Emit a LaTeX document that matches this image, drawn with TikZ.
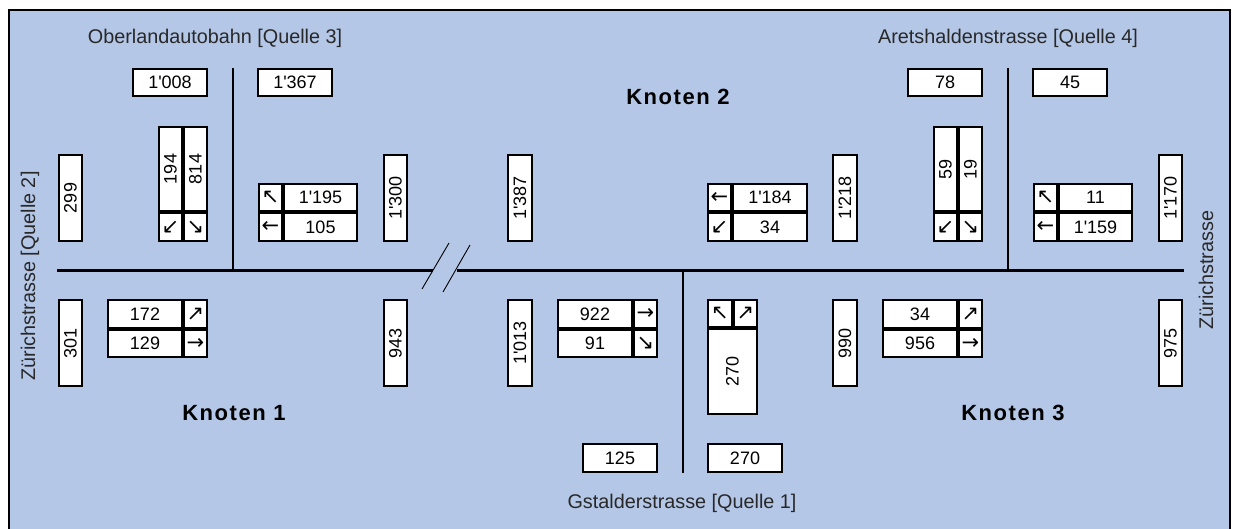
\documentclass[tikz,border=0pt]{standalone}
\usepackage{fontspec}
\usepackage{graphicx}
\newfontfamily\nf{Liberation Sans}
\newfontfamily\kf{Liberation Sans}[LetterSpace=7]
\newfontfamily\af{DejaVu Sans}
\definecolor{bg}{RGB}{180,199,231}
\definecolor{lblc}{RGB}{40,40,40}
\newcommand\rotnum[1]{\rotatebox{90}{#1}}
\newcommand\cbox[7][]{%
  \pgfmathsetmacro\cbw{#5-#3-1.8}\pgfmathsetmacro\cbh{#6-#4-1.8}%
  \node[cell,minimum width=\cbw pt,minimum height=\cbh pt,#1] (#2) at ({(#3+#5)/2},{(#4+#6)/2}) {#7};}
\begin{document}
\begin{tikzpicture}[x=1pt,y=-1pt,
  cell/.style={draw=black,line width=1.8pt,fill=white,inner sep=0pt,text=black,font=\nf\fontsize{18}{21}\selectfont},
  arr/.style={font=\af\fontsize{21}{24}\selectfont},
  road/.style={line width=2.2pt,draw=black},
  brk/.style={line width=0.9pt,draw=black},
  lbl/.style={font=\nf\fontsize{19.8}{23}\selectfont,text=lblc,inner sep=0pt},
  knot/.style={font=\kf\bfseries\fontsize{22}{25}\selectfont,text=black,inner sep=0pt}]
\useasboundingbox (0,0) rectangle (1237,529);
\clip (0,0) rectangle (1237,529);
\fill[white] (0,0) rectangle (1237,529);
\draw[line width=2pt,fill=bg] (9,10.5) rectangle (1230,560);

% roads
\coordinate (mL) at (57,270.5);
\coordinate (bL) at (433,270.5);
\coordinate (bR) at (457,270.5);
\coordinate (mR) at (1184,270.5);
\draw[road] (mL) -- (bL);
\draw[road] (bR) -- (mR);
\coordinate (s1a) at (422,289); \coordinate (s1b) at (449,243);
\coordinate (s2a) at (443,292); \coordinate (s2b) at (470,245);
\draw[brk] (s1a) -- (s1b);
\draw[brk] (s2a) -- (s2b);
\coordinate (o1) at (233,68); \coordinate (o2) at (233,270.5);
\draw[road] (o1) -- (o2);
\coordinate (r1) at (1008,68); \coordinate (r2) at (1008,270.5);
\draw[road] (r1) -- (r2);
\coordinate (g1) at (683,270.5); \coordinate (g2) at (683,473);
\draw[road] (g1) -- (g2);

% street labels
\node[lbl] (oberland) at (215,38) {Oberlandautobahn [Quelle 3]};
\node[lbl] (aret) at (1008,38) {Aretshaldenstrasse [Quelle 4]};
\node[lbl] (gstal) at (682,503) {Gstalderstrasse [Quelle 1]};
\node[lbl,rotate=90] (zu2) at (30,276) {Zürichstrasse [Quelle 2]};
\node[lbl,rotate=90] (zu) at (1206,270) {Zürichstrasse};

% Knoten
\node[knot] (k1) at (234,413) {Knoten 1};
\node[knot] (k2) at (678,97) {Knoten 2};
\node[knot] (k3) at (1013,413) {Knoten 3};

% top-left
\cbox{n1008}{132}{68}{208}{97}{1'008}
\cbox{n1367}{257}{68}{333}{97}{1'367}
\cbox{n299}{58}{154}{83}{242}{\rotnum{299}}
\cbox{n194}{158}{126}{183}{212}{\rotnum{194}}
\cbox{n814}{183}{126}{208}{212}{\rotnum{814}}
\cbox[arr]{a194}{158}{212}{183}{242}{↙}
\cbox[arr]{a814}{183}{212}{208}{242}{↘}
\cbox[arr]{a1195}{258}{183}{283}{212}{↖}
\cbox{n1195}{283}{183}{358}{212}{1'195}
\cbox[arr]{a105}{258}{212}{283}{242}{←}
\cbox{n105}{283}{212}{358}{242}{105}
\cbox{n1300}{383}{154}{408}{242}{\rotnum{1'300}}

% bottom-left
\cbox{n301}{58}{299}{83}{387}{\rotnum{301}}
\cbox{n172}{107}{299}{183}{329}{172}
\cbox[arr]{a172}{183}{299}{208}{329}{↗}
\cbox{n129}{107}{329}{183}{358}{129}
\cbox[arr]{a129}{183}{329}{208}{358}{→}
\cbox{n943}{383}{299}{408}{387}{\rotnum{943}}

% middle
\cbox{n1387}{507}{154}{533}{242}{\rotnum{1'387}}
\cbox[arr]{a1184}{707}{183}{732}{212}{←}
\cbox{n1184}{732}{183}{808}{212}{1'184}
\cbox[arr]{a34}{707}{212}{732}{242}{↙}
\cbox{n34}{732}{212}{808}{242}{34}
\cbox{n1013}{507}{299}{533}{387}{\rotnum{1'013}}
\cbox{n922}{557}{299}{633}{329}{922}
\cbox[arr]{a922}{633}{299}{658}{329}{→}
\cbox{n91}{557}{329}{633}{358}{91}
\cbox[arr]{a91}{633}{329}{658}{358}{↘}
\cbox[arr]{a270l}{707}{299}{733}{328}{↖}
\cbox[arr]{a270r}{733}{299}{758}{328}{↗}
\cbox{n270v}{707}{328}{758}{415}{\rotnum{270}}
\cbox{n125}{582}{443}{658}{473}{125}
\cbox{n270}{707}{443}{783}{473}{270}

% right
\cbox{n78}{907}{68}{983}{97}{78}
\cbox{n45}{1032}{68}{1108}{97}{45}
\cbox{n1218}{832}{154}{858}{242}{\rotnum{1'218}}
\cbox{n59}{933}{126}{958}{212}{\rotnum{59}}
\cbox{n19}{958}{126}{983}{212}{\rotnum{19}}
\cbox[arr]{a59}{933}{212}{958}{242}{↙}
\cbox[arr]{a19}{958}{212}{983}{242}{↘}
\cbox[arr]{a11}{1033}{183}{1058}{212}{↖}
\cbox{n11}{1058}{183}{1133}{212}{11}
\cbox[arr]{a1159}{1033}{212}{1058}{242}{←}
\cbox{n1159}{1058}{212}{1133}{242}{1'159}
\cbox{n1170}{1158}{154}{1183}{242}{\rotnum{1'170}}
\cbox{n990}{832}{299}{858}{387}{\rotnum{990}}
\cbox{n34b}{882}{299}{958}{329}{34}
\cbox[arr]{a34b}{958}{299}{983}{329}{↗}
\cbox{n956}{882}{329}{958}{358}{956}
\cbox[arr]{a956}{958}{329}{983}{358}{→}
\cbox{n975}{1158}{299}{1183}{387}{\rotnum{975}}
\end{tikzpicture}
\end{document}
